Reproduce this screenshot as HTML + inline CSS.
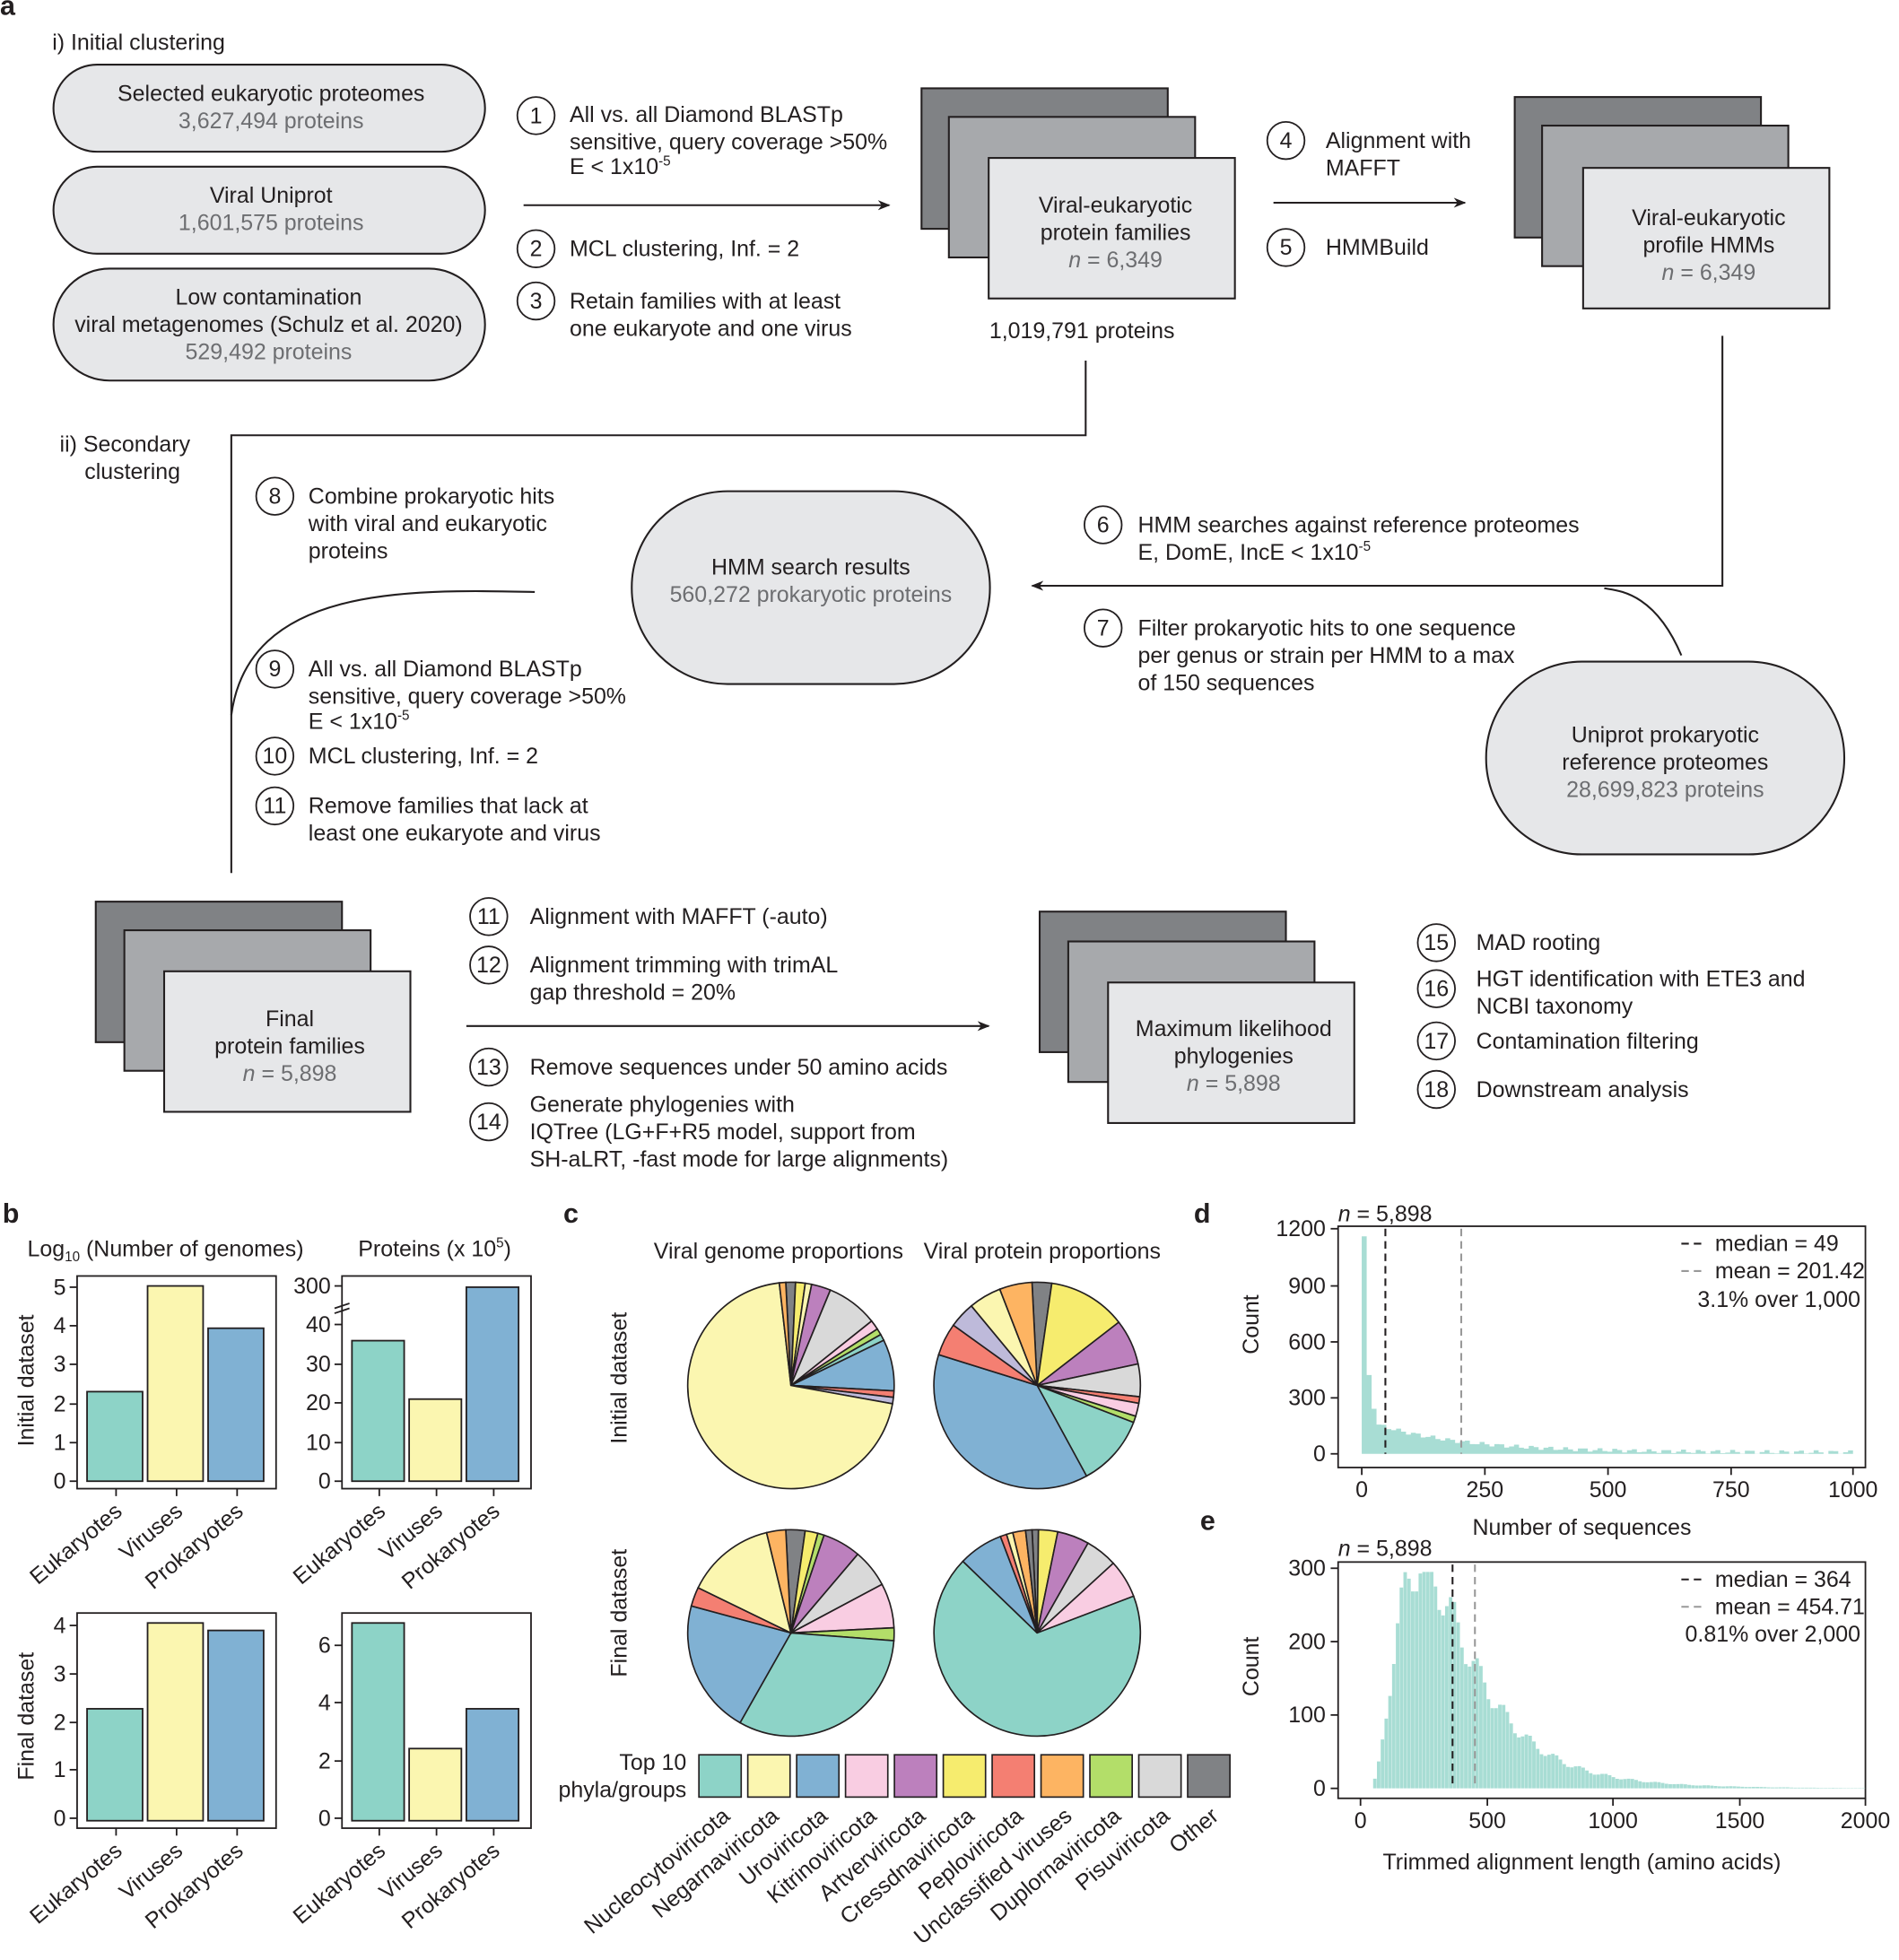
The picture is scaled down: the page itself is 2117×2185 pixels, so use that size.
<!DOCTYPE html>
<html><head><meta charset="utf-8"><style>
html,body{margin:0;padding:0;background:#fff}
svg{display:block}
text{font-family:"Liberation Sans",Arial,sans-serif;fill:#231f20}
.g{fill:#6d6e71}
</style></head><body>
<svg id="s" width="2117" height="2185" viewBox="0 0 1527 1576" preserveAspectRatio="none" xmlns="http://www.w3.org/2000/svg">
<defs><marker id="ar" markerWidth="10" markerHeight="8" refX="9" refY="4" orient="auto" markerUnits="userSpaceOnUse"><path d="M0,0 L10,4 L0,8 L3,4z" fill="#231f20"/></marker></defs>
<g font-size="18">
<text x="0" y="12" font-size="22" font-weight="bold">a</text>
<text x="42" y="40">i) Initial clustering</text>
<g fill="#e6e7e9" stroke="#231f20" stroke-width="1.5">
<rect x="43" y="52" width="347" height="70" rx="35"/>
<rect x="43" y="134" width="347" height="70" rx="35"/>
<rect x="43" y="216" width="347" height="90" rx="45"/>
<rect x="508" y="395" width="288" height="155" rx="77"/>
<rect x="1195" y="532" width="288" height="155" rx="77"/>
</g>
<g text-anchor="middle">
<text x="218" y="81">Selected eukaryotic proteomes</text><text x="218" y="103" class="g">3,627,494 proteins</text>
<text x="218" y="163">Viral Uniprot</text><text x="218" y="185" class="g">1,601,575 proteins</text>
<text x="216" y="245">Low contamination</text><text x="216" y="267">viral metagenomes (Schulz et al. 2020)</text><text x="216" y="289" class="g">529,492 proteins</text>
<text x="652" y="462">HMM search results</text><text x="652" y="484" class="g">560,272 prokaryotic proteins</text>
<text x="1339" y="597">Uniprot prokaryotic</text><text x="1339" y="619">reference proteomes</text><text x="1339" y="641" class="g">28,699,823 proteins</text>
</g>
<g stroke="#231f20" stroke-width="1.5">
<rect x="741" y="71" width="198" height="113" fill="#808285"/>
<rect x="763" y="94" width="198" height="113" fill="#a7a9ac"/>
<rect x="795" y="127" width="198" height="113" fill="#e6e7e9"/>
<rect x="1218" y="78" width="198" height="113" fill="#808285"/>
<rect x="1240" y="101" width="198" height="113" fill="#a7a9ac"/>
<rect x="1273" y="135" width="198" height="113" fill="#e6e7e9"/>
<rect x="77" y="725" width="198" height="113" fill="#808285"/>
<rect x="100" y="748" width="198" height="113" fill="#a7a9ac"/>
<rect x="132" y="781" width="198" height="113" fill="#e6e7e9"/>
<rect x="836" y="733" width="198" height="113" fill="#808285"/>
<rect x="859" y="757" width="198" height="113" fill="#a7a9ac"/>
<rect x="891" y="790" width="198" height="113" fill="#e6e7e9"/>
</g>
<g text-anchor="middle">
<text x="897" y="171">Viral-eukaryotic</text><text x="897" y="193">protein families</text><text x="897" y="215" class="g"><tspan font-style="italic">n</tspan> = 6,349</text>
<text x="1374" y="181">Viral-eukaryotic</text><text x="1374" y="203">profile HMMs</text><text x="1374" y="225" class="g"><tspan font-style="italic">n</tspan> = 6,349</text>
<text x="233" y="825">Final</text><text x="233" y="847">protein families</text><text x="233" y="869" class="g"><tspan font-style="italic">n</tspan> = 5,898</text>
<text x="992" y="833">Maximum likelihood</text><text x="992" y="855">phylogenies</text><text x="992" y="877" class="g"><tspan font-style="italic">n</tspan> = 5,898</text>
<text x="870" y="272">1,019,791 proteins</text>
</g>
<g stroke="#231f20" stroke-width="1.5" fill="none">
<line x1="421" y1="165" x2="715" y2="165" marker-end="url(#ar)"/>
<line x1="1024" y1="163" x2="1178" y2="163" marker-end="url(#ar)"/>
<line x1="375" y1="825" x2="795" y2="825" marker-end="url(#ar)"/>
<polyline points="1385,270 1385,471 830,471" marker-end="url(#ar)"/>
<polyline points="873,290 873,350 186,350 186,702"/>
<path d="M430,476 C330,474 200,470 186,575"/>
<path d="M1352,527 C1330,475 1300,475 1290,473"/>
<g stroke-width="1.3">
<circle cx="431" cy="93" r="15"/><circle cx="431" cy="200" r="15"/><circle cx="431" cy="242" r="15"/>
<circle cx="1034" cy="113" r="15"/><circle cx="1034" cy="199" r="15"/>
<circle cx="221" cy="399" r="15"/><circle cx="887" cy="422" r="15"/><circle cx="887" cy="505" r="15"/>
<circle cx="221" cy="538" r="15"/><circle cx="221" cy="608" r="15"/><circle cx="221" cy="648" r="15"/>
<circle cx="393" cy="737" r="15"/><circle cx="393" cy="776" r="15"/><circle cx="393" cy="858" r="15"/><circle cx="393" cy="902" r="15"/>
<circle cx="1155" cy="758" r="15"/><circle cx="1155" cy="795" r="15"/><circle cx="1155" cy="837" r="15"/><circle cx="1155" cy="876" r="15"/>
</g></g>
<g text-anchor="middle">
<text x="431" y="99">1</text><text x="431" y="206">2</text><text x="431" y="248">3</text>
<text x="1034" y="119">4</text><text x="1034" y="205">5</text>
<text x="221" y="405">8</text><text x="887" y="428">6</text><text x="887" y="511">7</text>
<text x="221" y="544">9</text><text x="221" y="614">10</text><text x="221" y="654">11</text>
<text x="393" y="743">11</text><text x="393" y="782">12</text><text x="393" y="864">13</text><text x="393" y="908">14</text>
<text x="1155" y="764">15</text><text x="1155" y="801">16</text><text x="1155" y="843">17</text><text x="1155" y="882">18</text>
</g>
<text x="458" y="98">All vs. all Diamond BLASTp</text>
<text x="458" y="120">sensitive, query coverage &gt;50%</text>
<text x="458" y="140">E &lt; 1x10<tspan font-size="11" dy="-7">-5</tspan></text>
<text x="458" y="206">MCL clustering, Inf. = 2</text>
<text x="458" y="248">Retain families with at least</text><text x="458" y="270">one eukaryote and one virus</text>
<text x="1066" y="119">Alignment with</text><text x="1066" y="141">MAFFT</text>
<text x="1066" y="205">HMMBuild</text>
<text x="48" y="363">ii) Secondary</text><text x="68" y="385">clustering</text>
<text x="248" y="405">Combine prokaryotic hits</text><text x="248" y="427">with viral and eukaryotic</text><text x="248" y="449">proteins</text>
<text x="915" y="428">HMM searches against reference proteomes</text>
<text x="915" y="450">E, DomE, IncE &lt; 1x10<tspan font-size="11" dy="-7">-5</tspan></text>
<text x="915" y="511">Filter prokaryotic hits to one sequence</text><text x="915" y="533">per genus or strain per HMM to a max</text><text x="915" y="555">of 150 sequences</text>
<text x="248" y="544">All vs. all Diamond BLASTp</text><text x="248" y="566">sensitive, query coverage &gt;50%</text>
<text x="248" y="586">E &lt; 1x10<tspan font-size="11" dy="-7">-5</tspan></text>
<text x="248" y="614">MCL clustering, Inf. = 2</text>
<text x="248" y="654">Remove families that lack at</text><text x="248" y="676">least one eukaryote and virus</text>
<text x="426" y="743">Alignment with MAFFT (-auto)</text>
<text x="426" y="782">Alignment trimming with trimAL</text><text x="426" y="804">gap threshold = 20%</text>
<text x="426" y="864">Remove sequences under 50 amino acids</text>
<text x="426" y="894">Generate phylogenies with</text><text x="426" y="916">IQTree (LG+F+R5 model, support from</text><text x="426" y="938">SH-aLRT, -fast mode for large alignments)</text>
<text x="1187" y="764">MAD rooting</text>
<text x="1187" y="793">HGT identification with ETE3 and</text><text x="1187" y="815">NCBI taxonomy</text>
<text x="1187" y="843">Contamination filtering</text>
<text x="1187" y="882">Downstream analysis</text>

<text x="2" y="983" font-size="22" font-weight="bold">b</text>
<text x="453" y="983" font-size="22" font-weight="bold">c</text>
<text x="960" y="983" font-size="22" font-weight="bold">d</text>
<text x="965" y="1230" font-size="22" font-weight="bold">e</text>
<text x="22" y="1010">Log<tspan font-size="11" dy="4">10</tspan><tspan dy="-4"> (Number of genomes)</tspan></text>
<text x="288" y="1010">Proteins (x 10<tspan font-size="11" dy="-7">5</tspan><tspan dy="7">)</tspan></text>
<text transform="translate(27,1110) rotate(-90)" text-anchor="middle">Initial dataset</text>
<text transform="translate(27,1380) rotate(-90)" text-anchor="middle">Final dataset</text>
<text x="626" y="1012" text-anchor="middle">Viral genome proportions</text>
<text x="838" y="1012" text-anchor="middle">Viral protein proportions</text>
<text transform="translate(504,1108) rotate(-90)" text-anchor="middle">Initial dataset</text>
<text transform="translate(504,1297) rotate(-90)" text-anchor="middle">Final dataset</text>
<text x="552" y="1423" text-anchor="end">Top 10</text><text x="552" y="1445" text-anchor="end">phyla/groups</text>
<text transform="translate(1012,1065) rotate(-90)" text-anchor="middle">Count</text>
<text transform="translate(1012,1340) rotate(-90)" text-anchor="middle">Count</text>
<text x="1272" y="1234" text-anchor="middle">Number of sequences</text>
<text x="1272" y="1503" text-anchor="middle">Trimmed alignment length (amino acids)</text>
<text x="1076" y="982"><tspan font-style="italic">n</tspan> = 5,898</text>
<text x="1076" y="1251"><tspan font-style="italic">n</tspan> = 5,898</text>
<text x="1379" y="1006">median = 49</text><text x="1379" y="1028">mean = 201.42</text><text x="1365" y="1051">3.1% over 1,000</text>
<text x="1379" y="1276">median = 364</text><text x="1379" y="1298">mean = 454.71</text><text x="1355" y="1320">0.81% over 2,000</text>
<line x1="1352" y1="1000" x2="1372" y2="1000" stroke="#231f20" stroke-width="1.5" stroke-dasharray="6,4"/>
<line x1="1352" y1="1022" x2="1372" y2="1022" stroke="#999" stroke-width="1.5" stroke-dasharray="6,4"/>
<line x1="1352" y1="1270" x2="1372" y2="1270" stroke="#231f20" stroke-width="1.5" stroke-dasharray="6,4"/>
<line x1="1352" y1="1292" x2="1372" y2="1292" stroke="#999" stroke-width="1.5" stroke-dasharray="6,4"/>
</g>
<g id="dyn"></g>
</svg>
<script>
var NS="http://www.w3.org/2000/svg",G=document.getElementById("dyn");
function el(t,a,txt){var e=document.createElementNS(NS,t);for(var k in a)e.setAttribute(k,a[k]);if(txt!=null)e.textContent=txt;G.appendChild(e);return e;}
var C={nu:"#8dd3c7",ne:"#fbf6b0",ur:"#80b1d3",ki:"#f9cde2",ar:"#bc80bd",cr:"#f6ec6e",pe:"#f47f72",un:"#fdb462",du:"#b3de69",pi:"#d9d9d9",ot:"#808285",la:"#bebada"};
var BK="#231f20";
function bars(x0,x1,y0,y1,ticks,tickY,vals){
  el("rect",{x:x0,y:y0,width:x1-x0,height:y1-y0,fill:"none",stroke:BK,"stroke-width":1.3});
  ticks.forEach(function(t,i){el("line",{x1:x0-6,x2:x0,y1:tickY[i],y2:tickY[i],stroke:BK,"stroke-width":1.3});
    el("text",{x:x0-9,y:tickY[i]+6,"text-anchor":"end","font-size":18},t);});
  var cols=[C.nu,C.ne,C.ur],w=(x1-x0-20)/3;
  vals.forEach(function(v,i){var bx=x0+8+i*(w+2);el("rect",{x:bx,y:v,width:w-2,height:y1-6-v,fill:cols[i],stroke:BK,"stroke-width":1.3});
    var cx=bx+w/2;el("line",{x1:cx,x2:cx,y1:y1,y2:y1+6,stroke:BK,"stroke-width":1.3});
    el("text",{transform:"translate("+(cx+6)+","+(y1+20)+") rotate(-40)","text-anchor":"end","font-size":18},["Eukaryotes","Viruses","Prokaryotes"][i]);});
}
bars(62,222,1026,1197,["0","1","2","3","4","5"],[1191,1160,1129,1097,1066,1035],[1119,1034,1068]);
bars(275,427,1026,1197,["0","10","20","30","40","300"],[1191,1160,1128,1097,1065,1034],[1078,1125,1035]);
el("path",{d:"M269,1052 l12,-4 M269,1056 l12,-4",stroke:BK,"stroke-width":1.3});
bars(62,222,1297,1470,["0","1","2","3","4"],[1462,1423,1385,1346,1307],[1374,1305,1311]);
bars(275,427,1297,1470,["0","2","4","6"],[1462,1416,1369,1323],[1305,1406,1374]);
function pie(cx,cy,r,sl){var a=-Math.PI/2-0.05,tot=0;sl.forEach(function(s){tot+=s[1];});
  sl.forEach(function(s){var b=a+2*Math.PI*s[1]/tot;var x1=cx+r*Math.cos(a),y1=cy+r*Math.sin(a),x2=cx+r*Math.cos(b),y2=cy+r*Math.sin(b);
    el("path",{d:"M"+cx+","+cy+"L"+x1+","+y1+"A"+r+","+r+" 0 "+((b-a)>Math.PI?1:0)+" 1 "+x2+","+y2+"Z",fill:C[s[0]],stroke:BK,"stroke-width":1.2});a=b;});}
pie(636,1114,83,[["ot",1.5],["cr",1.5],["ne",1],["ar",3],["pi",8],["ki",1.5],["du",1],["nu",1],["ur",8],["pe",1],["la",1],["ne",70],["un",1]]);
pie(834,1114,83,[["ot",3],["cr",12],["ar",7],["pi",5],["pe",1],["ki",2],["du",1],["nu",11],["ur",37],["pe",5],["la",4],["ne",5],["un",5]]);
pie(636,1313,83,[["ot",3],["cr",2],["du",1],["ar",6],["pi",6],["ki",7],["du",2],["nu",32],["ur",21],["pe",3],["ne",14],["un",3]]);
pie(834,1313,83,[["ot",1],["cr",3],["ar",5],["pi",5],["ki",6],["nu",68],["ur",7],["pe",1],["ne",1],["un",2],["ot",1]]);
var L=[["nu","Nucleocytoviricota"],["ne","Negarnaviricota"],["ur","Uroviricota"],["ki","Kitrinoviricota"],["ar","Artverviricota"],["cr","Cressdnaviricota"],["pe","Peploviricota"],["un","Unclassified viruses"],["du","Duplornaviricota"],["pi","Pisuviricota"],["ot","Other"]];
L.forEach(function(l,i){var x=562+i*39.3;el("rect",{x:x,y:1411,width:34,height:34,fill:C[l[0]],stroke:BK,"stroke-width":1.2});
  el("text",{transform:"translate("+(x+26)+",1462) rotate(-40)","text-anchor":"end","font-size":18},l[1]);});
function axes(x0,x1,y0,y1,xt,xp,yt,yp){
  el("rect",{x:x0,y:y0,width:x1-x0,height:y1-y0,fill:"none",stroke:BK,"stroke-width":1.3});
  xt.forEach(function(t,i){el("line",{x1:xp[i],x2:xp[i],y1:y1,y2:y1+6,stroke:BK,"stroke-width":1.3});el("text",{x:xp[i],y:y1+24,"text-anchor":"middle","font-size":18},t);});
  yt.forEach(function(t,i){el("line",{x1:x0-6,x2:x0,y1:yp[i],y2:yp[i],stroke:BK,"stroke-width":1.3});el("text",{x:x0-10,y:yp[i]+6,"text-anchor":"end","font-size":18},t);});}
axes(1076,1500,986,1180,["0","250","500","750","1000"],[1095,1194,1293,1392,1490],["0","300","600","900","1200"],[1169,1124,1079,1034,988]);
var d="";for(var v=5;v<1000;v+=10){var c;if(v<10)c=1160;else if(v<20)c=420;else if(v<30)c=240;else c=150*Math.exp(-(v-30)/180)+8+10*Math.sin(v*1.7);
 var x=1095+v*0.395-2,y=1169-c*0.1508;d+="M"+x+",1169V"+y+"h4V1169z";}
el("path",{d:d,fill:"#a8ddd4"});
el("line",{x1:1114,x2:1114,y1:988,y2:1169,stroke:BK,"stroke-width":1.5,"stroke-dasharray":"6,4"});
el("line",{x1:1175,x2:1175,y1:988,y2:1169,stroke:"#999","stroke-width":1.5,"stroke-dasharray":"6,4"});
axes(1076,1500,1256,1446,["0","500","1000","1500","2000"],[1094,1196,1297,1399,1500],["0","100","200","300"],[1438,1379,1320,1261]);
d="";for(var v=50;v<2000;v+=15){var l=Math.log(v),mu=Math.log(330),s=0.6;var c=255*Math.exp(-Math.pow(l-mu,2)/(2*s*s))*(330/v)*(1+0.12*Math.sin(v*0.9));
 c=Math.min(c,295);var x=1094+v*0.203,y=1438-c*0.59;d+="M"+x+",1438V"+y+"h2.8V1438z";}
el("path",{d:d,fill:"#a8ddd4"});
el("line",{x1:1168,x2:1168,y1:1258,y2:1438,stroke:BK,"stroke-width":1.5,"stroke-dasharray":"6,4"});
el("line",{x1:1186,x2:1186,y1:1258,y2:1438,stroke:"#999","stroke-width":1.5,"stroke-dasharray":"6,4"});
</script>
</body></html>
